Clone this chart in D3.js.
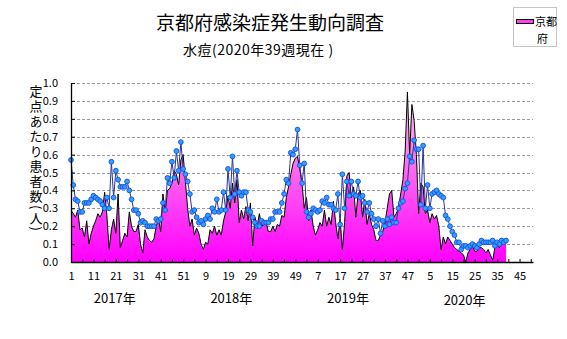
<!DOCTYPE html>
<html>
<head>
<meta charset="utf-8">
<script src="https://cdn.jsdelivr.net/npm/d3@7"></script>
<style>
  body { margin: 0; background: #fff; }
  svg text { font-family: "Noto Sans CJK JP", "Noto Sans", sans-serif; fill: #000; }
</style>
</head>
<body>
<script>
(function(d3) {
  "use strict";

  /***** Données (定点あたり患者数, par semaine) *****/
  var yearLabels = ["2017年", "2018年", "2019年", "2020年"];
  var weeksPerYear = [52, 52, 52, 53];

  // 京都府 (aire rose)
  var kyoto2017 = [0.29, 0.27, 0.25, 0.29, 0.18, 0.19, 0.14, 0.23, 0.10, 0.16,
                   0.20, 0.23, 0.27, 0.25, 0.28, 0.39, 0.26, 0.07, 0.18, 0.24,
                   0.16, 0.38, 0.08, 0.12, 0.16, 0.14, 0.28, 0.20, 0.17, 0.17,
                   0.21, 0.10, 0.05, 0.18, 0.14, 0.12, 0.11, 0.13, 0.20, 0.24,
                   0.17, 0.38, 0.28, 0.40, 0.41, 0.44, 0.51, 0.49, 0.43, 0.57,
                   0.60, 0.45];
  var kyoto2018 = [0.30, 0.20, 0.24, 0.15, 0.19, 0.16, 0.10, 0.07, 0.11, 0.10,
                   0.18, 0.16, 0.20, 0.15, 0.18, 0.15, 0.23, 0.28, 0.37, 0.30,
                   0.44, 0.33, 0.46, 0.22, 0.29, 0.24, 0.31, 0.23, 0.33, 0.09,
                   0.25, 0.20, 0.27, 0.20, 0.21, 0.22, 0.17, 0.17, 0.20, 0.17,
                   0.21, 0.20, 0.26, 0.25, 0.36, 0.42, 0.49, 0.55, 0.58, 0.59,
                   0.52, 0.44];
  var kyoto2019 = [0.30, 0.36, 0.23, 0.29, 0.20, 0.15, 0.18, 0.22, 0.20, 0.29,
                   0.20, 0.25, 0.21, 0.34, 0.22, 0.13, 0.24, 0.07, 0.22, 0.48,
                   0.50, 0.36, 0.42, 0.25, 0.38, 0.40, 0.25, 0.35, 0.21, 0.27,
                   0.21, 0.18, 0.12, 0.12, 0.15, 0.17, 0.22, 0.30, 0.38, 0.40,
                   0.25, 0.27, 0.30, 0.38, 0.46, 0.62, 0.95, 0.60, 0.88, 0.79,
                   0.60, 0.27];
  var kyoto2020 = [0.44, 0.42, 0.27, 0.29, 0.22, 0.27, 0.24, 0.26, 0.20, 0.07,
                   0.14, 0.10, 0.14, 0.12, 0.10, 0.08, 0.07, 0.06, 0.05, 0.04,
                   0.00, 0.05, 0.07, 0.09, 0.06, 0.06, 0.08, 0.08, 0.07, 0.05,
                   0.07, 0.04, 0.01, 0.08, 0.10, 0.08, 0.10, 0.12, 0.13];

  // Deuxième série (ligne bleue avec marqueurs)
  var ref2017 = [0.57, 0.43, 0.35, 0.34, 0.28, 0.28, 0.33, 0.33, 0.33, 0.35,
                 0.37, 0.36, 0.35, 0.34, 0.32, 0.30, 0.36, 0.30, 0.56, 0.36,
                 0.51, 0.46, 0.42, 0.42, 0.42, 0.45, 0.40, 0.35, 0.29, 0.29,
                 0.27, 0.22, 0.23, 0.22, 0.20, 0.20, 0.20, 0.20, 0.24, 0.23,
                 0.24, 0.33, 0.29, 0.47, 0.44, 0.56, 0.47, 0.62, 0.51, 0.67,
                 0.52, 0.49];
  var ref2018 = [0.45, 0.38, 0.28, 0.29, 0.25, 0.22, 0.23, 0.21, 0.24, 0.26,
                 0.24, 0.30, 0.28, 0.35, 0.28, 0.29, 0.39, 0.29, 0.52, 0.36,
                 0.59, 0.38, 0.51, 0.39, 0.37, 0.39, 0.39, 0.29, 0.28, 0.25,
                 0.22, 0.20, 0.20, 0.23, 0.22, 0.22, 0.22, 0.24, 0.24, 0.28,
                 0.28, 0.28, 0.33, 0.38, 0.46, 0.44, 0.61, 0.60, 0.63, 0.74,
                 0.54, 0.44];
  var ref2019 = [0.55, 0.28, 0.25, 0.27, 0.30, 0.29, 0.28, 0.29, 0.34, 0.33,
                 0.36, 0.32, 0.32, 0.30, 0.29, 0.38, 0.21, 0.49, 0.30, 0.45,
                 0.37, 0.45, 0.38, 0.37, 0.45, 0.36, 0.37, 0.33, 0.28, 0.33,
                 0.27, 0.24, 0.20, 0.24, 0.16, 0.23, 0.20, 0.24, 0.21, 0.25,
                 0.22, 0.22, 0.30, 0.33, 0.34, 0.41, 0.44, 0.59, 0.56, 0.68,
                 0.63, 0.63];
  var ref2020 = [0.32, 0.65, 0.30, 0.43, 0.30, 0.38, 0.39, 0.40, 0.38, 0.37,
                 0.36, 0.26, 0.24, 0.20, 0.17, 0.15, 0.11, 0.11, 0.07, 0.09,
                 0.09, 0.08, 0.09, 0.10, 0.09, 0.08, 0.10, 0.12, 0.11, 0.11,
                 0.11, 0.11, 0.12, 0.09, 0.11, 0.10, 0.12, 0.11, 0.12];

  var yTicks = [0, 0.1, 0.2, 0.3, 0.4, 0.5, 0.6, 0.7, 0.8, 0.9, 1.0];
  var xTickLabels = ["1", "11", "21", "31", "41", "51",
                     "9", "19", "29", "39", "49",
                     "7", "17", "27", "37", "47",
                     "5", "15", "25", "35", "45"];

  /***** Configuration *****/
  var width = 567, height = 339;
  var margin = { top: 83, right: 34, bottom: 77, left: 71 };
  var lastWeek = 207;

  var x = d3.scaleLinear().domain([1, lastWeek]).range([margin.left, width - margin.right]);
  var y = d3.scaleLinear().domain([0, 1]).range([height - margin.bottom, margin.top]);

  function toPoints(arrays) {
    var all = [].concat.apply([], arrays);
    return all.map(function(v, i) { return { k: i + 1, v: v }; });
  }
  var kyoto = toPoints([kyoto2017, kyoto2018, kyoto2019, kyoto2020]);
  var ref = toPoints([ref2017, ref2018, ref2019, ref2020]);

  var svg = d3.select("body").append("svg")
    .attr("width", width)
    .attr("height", height);

  svg.append("rect").attr("width", width).attr("height", height).attr("fill", "#fff");

  // Dégradé de l'aire
  var grad = svg.append("defs").append("linearGradient")
    .attr("id", "pink")
    .attr("gradientUnits", "userSpaceOnUse")
    .attr("x1", 0).attr("x2", 0)
    .attr("y1", y(1)).attr("y2", y(0));
  grad.append("stop").attr("offset", "0%").attr("stop-color", "#ffd6f2");
  grad.append("stop").attr("offset", "50%").attr("stop-color", "#ff66ee");
  grad.append("stop").attr("offset", "100%").attr("stop-color", "#ff00ff");

  /***** Titres *****/
  svg.append("text")
    .attr("x", 270).attr("y", 30)
    .attr("text-anchor", "middle")
    .style("font-size", "19px")
    .text("京都府感染症発生動向調査");

  svg.append("text")
    .attr("x", 183).attr("y", 55)
    .style("font-size", "14px")
    .style("letter-spacing", "0.5px")
    .text("水痘(2020年39週現在 )");

  /***** Grille *****/
  svg.append("g").selectAll("line")
    .data(yTicks.filter(function(t) { return t > 0; }))
    .enter().append("line")
    .attr("x1", x(1) + 1).attr("x2", x(lastWeek))
    .attr("y1", function(d) { return Math.round(y(d)) + 0.5; })
    .attr("y2", function(d) { return Math.round(y(d)) + 0.5; })
    .attr("stroke", "#9a9a9a")
    .attr("stroke-dasharray", "3,2");

  /***** Séries *****/
  var area = d3.area()
    .x(function(d) { return x(d.k); })
    .y0(y(0))
    .y1(function(d) { return y(d.v); });
  var line = d3.line()
    .x(function(d) { return x(d.k); })
    .y(function(d) { return y(d.v); });

  svg.append("path").datum(kyoto)
    .attr("d", area)
    .attr("fill", "url(#pink)");
  svg.append("path").datum(kyoto)
    .attr("d", line)
    .attr("fill", "none")
    .attr("stroke", "#000")
    .attr("stroke-width", 1);

  svg.append("path").datum(ref)
    .attr("d", line)
    .attr("fill", "none")
    .attr("stroke", "#2b3596")
    .attr("stroke-width", 1);
  svg.append("g").selectAll("circle")
    .data(ref)
    .enter().append("circle")
    .attr("cx", function(d) { return x(d.k); })
    .attr("cy", function(d) { return y(d.v); })
    .attr("r", 2.4)
    .attr("fill", "#2aa3ff")
    .attr("stroke", "#1f49e0")
    .attr("stroke-width", 0.9);

  /***** Axes *****/
  var minorTicks = d3.range(1, lastWeek, 5);
  var xAxis = d3.axisBottom(x)
    .tickValues(minorTicks)
    .tickSizeInner(-3)
    .tickSizeOuter(0)
    .tickPadding(10)
    .tickFormat(function(k) {
      return (k - 1) % 10 === 0 ? xTickLabels[(k - 1) / 10] : "";
    });
  var gx = svg.append("g")
    .attr("transform", "translate(0," + y(0) + ")")
    .call(xAxis);
  gx.select(".domain").attr("stroke", "#000").attr("stroke-width", 1.3);
  gx.selectAll(".tick line").attr("stroke", "#000");
  gx.selectAll("text").style("font-size", "11px");

  var yAxis = d3.axisLeft(y)
    .tickValues(yTicks)
    .tickSizeInner(-4)
    .tickSizeOuter(0)
    .tickPadding(13)
    .tickFormat(d3.format(".1f"));
  var gy = svg.append("g")
    .attr("transform", "translate(" + x(1) + ",0)")
    .call(yAxis);
  gy.select(".domain").attr("stroke", "#000").attr("stroke-width", 1.3);
  gy.selectAll(".tick line").attr("stroke", "#000");
  gy.selectAll("text").style("font-size", "11px");

  // Années sous l'axe
  var yearStart = [1];
  weeksPerYear.forEach(function(n, i) { yearStart.push(yearStart[i] + n); });
  svg.append("g").selectAll("text")
    .data(yearLabels)
    .enter().append("text")
    .attr("x", function(d, i) { return x(yearStart[i] + 19.5); })
    .attr("y", function(d, i) { return i === 3 ? 305 : 303; })
    .attr("text-anchor", "middle")
    .style("font-size", "13px")
    .text(function(d) { return d; });

  // Titre vertical de l'axe Y (écriture verticale)
  svg.append("text")
    .attr("x", 36).attr("y", 85)
    .style("writing-mode", "vertical-rl")
    .style("font-size", "13px")
    .style("letter-spacing", "2px")
    .text("定点あたり患者数(人)");

  /***** Légende *****/
  var legend = svg.append("g");
  legend.append("rect")
    .attr("x", 513.5).attr("y", 7.5)
    .attr("width", 43).attr("height", 39)
    .attr("fill", "#fff")
    .attr("stroke", "#8a8a8a")
    .attr("stroke-dasharray", "1,1");
  legend.append("rect")
    .attr("x", 516.5).attr("y", 19.5)
    .attr("width", 17).attr("height", 4)
    .attr("fill", "#ff40f0")
    .attr("stroke", "#000");
  legend.append("text")
    .attr("x", 535).attr("y", 26)
    .style("font-size", "11px")
    .text("京都");
  legend.append("text")
    .attr("x", 537).attr("y", 43)
    .style("font-size", "11px")
    .text("府");
})(d3);
</script>
</body>
</html>
